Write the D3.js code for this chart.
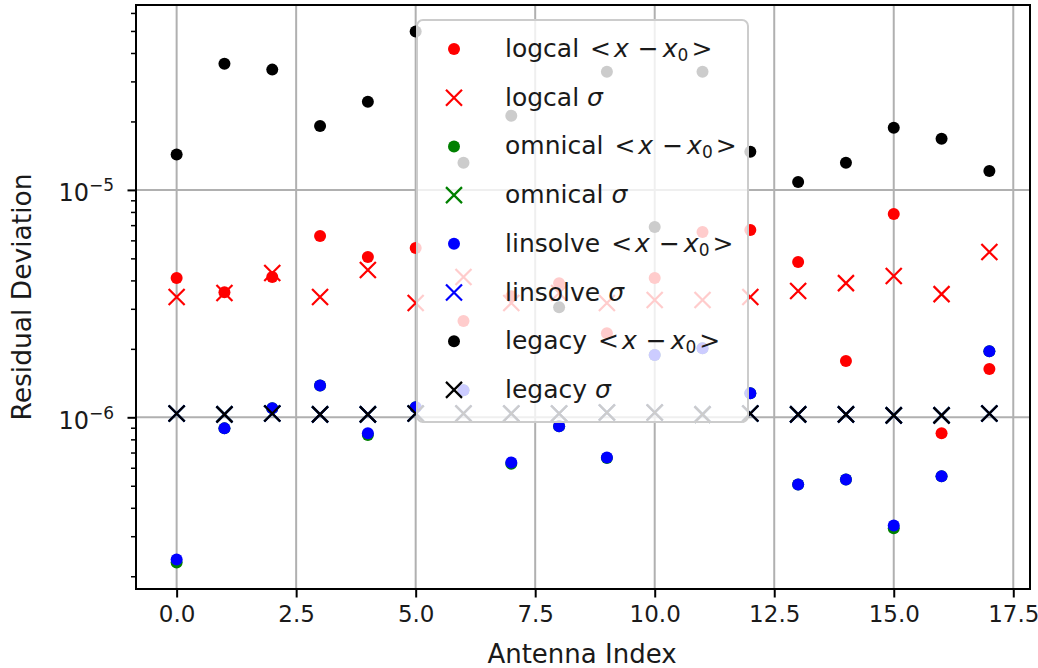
<!DOCTYPE html>
<html>
<head>
<meta charset="utf-8">
<script src="https://cdn.jsdelivr.net/npm/d3@7"></script>
<style>
  body { margin: 0; background: #fff; }
  svg { display: block; font-family: "DejaVu Sans", sans-serif; }
</style>
</head>
<body>
<div id="chart"></div>
<script>
// --- Data ---
const antenna = [0, 1, 2, 3, 4, 5, 6, 7, 8, 9, 10, 11, 12, 13, 14, 15, 16, 17];

const logcalMean = [4.10e-6, 3.55e-6, 4.14e-6, 6.27e-6, 5.07e-6, 5.55e-6, 2.65e-6, 3.41e-6, 3.89e-6,
  2.34e-6, 4.10e-6, 6.53e-6, 6.67e-6, 4.82e-6, 1.77e-6, 7.84e-6, 8.50e-7, 1.63e-6];
const logcalSigma = [3.38e-6, 3.52e-6, 4.31e-6, 3.38e-6, 4.44e-6, 3.18e-6, 4.14e-6, 3.18e-6, 3.52e-6,
  3.18e-6, 3.28e-6, 3.28e-6, 3.38e-6, 3.59e-6, 3.89e-6, 4.18e-6, 3.48e-6, 5.33e-6];
const omnicalMean = [2.30e-7, 8.94e-7, 1.095e-6, 1.38e-6, 8.35e-7, 1.107e-6, 1.315e-6, 6.25e-7, 9.13e-7,
  6.62e-7, 1.88e-6, 2.01e-6, 1.275e-6, 5.07e-7, 5.33e-7, 3.25e-7, 5.50e-7, 1.95e-6];
const omnicalSigma = [1.04e-6, 1.03e-6, 1.04e-6, 1.03e-6, 1.03e-6, 1.04e-6, 1.04e-6, 1.04e-6, 1.04e-6,
  1.05e-6, 1.05e-6, 1.03e-6, 1.04e-6, 1.03e-6, 1.03e-6, 1.02e-6, 1.02e-6, 1.04e-6];
const linsolveMean = [2.37e-7, 8.94e-7, 1.095e-6, 1.38e-6, 8.50e-7, 1.107e-6, 1.315e-6, 6.33e-7, 9.13e-7,
  6.66e-7, 1.88e-6, 2.01e-6, 1.275e-6, 5.07e-7, 5.33e-7, 3.34e-7, 5.50e-7, 1.95e-6];
const linsolveSigma = [1.04e-6, 1.03e-6, 1.04e-6, 1.03e-6, 1.03e-6, 1.04e-6, 1.04e-6, 1.04e-6, 1.04e-6,
  1.05e-6, 1.05e-6, 1.03e-6, 1.04e-6, 1.03e-6, 1.03e-6, 1.02e-6, 1.02e-6, 1.04e-6];
const legacyMean = [1.43e-5, 3.59e-5, 3.38e-5, 1.91e-5, 2.44e-5, 4.97e-5, 1.315e-5, 2.12e-5, 3.05e-6,
  3.31e-5, 6.87e-6, 3.31e-5, 1.47e-5, 1.084e-5, 1.315e-5, 1.875e-5, 1.68e-5, 1.21e-5];
const legacySigma = [1.04e-6, 1.03e-6, 1.04e-6, 1.03e-6, 1.03e-6, 1.04e-6, 1.04e-6, 1.04e-6, 1.04e-6,
  1.05e-6, 1.05e-6, 1.03e-6, 1.04e-6, 1.03e-6, 1.03e-6, 1.02e-6, 1.02e-6, 1.04e-6];

const xTicks = [0, 2.5, 5, 7.5, 10, 12.5, 15, 17.5];
const yMajorTicks = [1e-6, 1e-5];
const yTickExponents = ["\u22126", "\u22125"];

const series = [
  { name: "logcal", kind: "mean", color: "#ff0000", values: logcalMean },
  { name: "logcal", kind: "sigma", color: "#ff0000", values: logcalSigma },
  { name: "omnical", kind: "mean", color: "#008000", values: omnicalMean },
  { name: "omnical", kind: "sigma", color: "#008000", values: omnicalSigma },
  { name: "linsolve", kind: "mean", color: "#0000ff", values: linsolveMean },
  { name: "linsolve", kind: "sigma", color: "#0000ff", values: linsolveSigma },
  { name: "legacy", kind: "mean", color: "#000000", values: legacyMean },
  { name: "legacy", kind: "sigma", color: "#000000", values: legacySigma },
];

// --- Dimensions ---
const W = 1038, H = 668;
const plot = { left: 136, right: 1030, top: 5, bottom: 589 };
const fontSize = 23;
const textColor = "#1a1a1a";

const svg = d3.select("#chart").append("svg")
  .attr("width", W).attr("height", H);

// --- Scales (matplotlib style 5% margins) ---
const x = d3.scaleLinear()
  .domain([-0.85, 17.85])
  .range([plot.left, plot.right]);

const allVals = series.flatMap(s => s.values).map(v => Math.log10(v));
const [lo, hi] = d3.extent(allVals);
const pad = (hi - lo) * 0.05;
const y = d3.scaleLog()
  .domain([Math.pow(10, lo - pad), Math.pow(10, hi + pad)])
  .range([plot.bottom, plot.top]);

// minor log ticks inside the domain
const yMinorTicks = [];
for (let e = -7; e <= -4; e++) {
  for (let m = 2; m <= 9; m++) {
    const v = m * Math.pow(10, e);
    if (v >= y.domain()[0] && v <= y.domain()[1]) yMinorTicks.push(v);
  }
}

// --- Grid ---
const grid = svg.append("g").attr("stroke", "#b0b0b0").attr("stroke-width", 2);
grid.selectAll(".gx").data(xTicks).join("line")
  .attr("x1", d => x(d)).attr("x2", d => x(d))
  .attr("y1", plot.top).attr("y2", plot.bottom);
grid.selectAll(".gy").data(yMajorTicks).join("line")
  .attr("x1", plot.left).attr("x2", plot.right)
  .attr("y1", d => y(d)).attr("y2", d => y(d));

// --- Points ---
const xr = 8;
for (const s of series) {
  const pts = s.values.map((v, i) => ({ i: antenna[i], v }));
  if (s.kind === "mean") {
    svg.append("g").selectAll("circle").data(pts).join("circle")
      .attr("cx", d => x(d.i)).attr("cy", d => y(d.v))
      .attr("r", 6).attr("fill", s.color);
  } else {
    svg.append("g").selectAll("path").data(pts).join("path")
      .attr("transform", d => `translate(${x(d.i)},${y(d.v)})`)
      .attr("d", `M${-xr},${-xr}L${xr},${xr}M${-xr},${xr}L${xr},${-xr}`)
      .attr("stroke", s.color).attr("stroke-width", 2.2).attr("fill", "none");
  }
}

// --- Axes ---
const xAxis = svg.append("g")
  .attr("transform", `translate(0,${plot.bottom})`)
  .call(d3.axisBottom(x).tickValues(xTicks).tickFormat(d3.format(".1f")).tickSize(8.5).tickPadding(8));
xAxis.select(".domain").remove();
xAxis.selectAll("line").attr("stroke", "#000").attr("stroke-width", 2);
xAxis.selectAll("text").attr("font-size", fontSize).attr("fill", textColor)
  .attr("font-family", "DejaVu Sans");

const yMinor = svg.append("g")
  .attr("transform", `translate(${plot.left},0)`)
  .call(d3.axisLeft(y).tickValues(yMinorTicks).tickFormat("").tickSize(5));
yMinor.select(".domain").remove();
yMinor.selectAll("line").attr("stroke", "#000").attr("stroke-width", 1.5);

const yMajor = svg.append("g")
  .attr("transform", `translate(${plot.left},0)`)
  .call(d3.axisLeft(y).tickValues(yMajorTicks).tickFormat("").tickSize(8.5));
yMajor.select(".domain").remove();
yMajor.selectAll("line").attr("stroke", "#000").attr("stroke-width", 2);

yMajor.selectAll(".tick").append("text")
  .attr("x", -22).attr("y", 11)
  .attr("text-anchor", "end")
  .attr("fill", textColor)
  .attr("font-size", 24)
  .attr("font-family", "DejaVu Sans")
  .each(function(d, i) {
    const t = d3.select(this);
    t.append("tspan").text("10");
    t.append("tspan").attr("font-size", 17).attr("dy", -10).text(yTickExponents[i]);
  });

// frame
svg.append("rect")
  .attr("x", plot.left).attr("y", plot.top)
  .attr("width", plot.right - plot.left).attr("height", plot.bottom - plot.top)
  .attr("fill", "none").attr("stroke", "#000").attr("stroke-width", 2);

// axis labels
svg.append("text")
  .attr("x", (plot.left + plot.right) / 2 - 1).attr("y", 663)
  .attr("text-anchor", "middle")
  .attr("font-size", 26).attr("fill", textColor)
  .text("Antenna Index");

svg.append("text")
  .attr("transform", `translate(31,${(plot.top + plot.bottom) / 2}) rotate(-90)`)
  .attr("text-anchor", "middle")
  .attr("font-size", 26.5).attr("fill", textColor)
  .text("Residual Deviation");

// --- Legend ---
const legend = svg.append("g").attr("transform", "translate(417,20)");
legend.append("rect")
  .attr("width", 331).attr("height", 402).attr("rx", 6)
  .attr("fill", "#fff").attr("fill-opacity", 0.8)
  .attr("stroke", "#cccccc").attr("stroke-width", 2);

series.forEach((s, i) => {
  const g = legend.append("g").attr("transform", `translate(0,${29 + i * 48.7})`);
  if (s.kind === "mean") {
    g.append("circle").attr("cx", 37).attr("cy", 0).attr("r", 6).attr("fill", s.color);
  } else {
    g.append("path")
      .attr("transform", "translate(37,0)")
      .attr("d", `M${-xr},${-xr}L${xr},${xr}M${-xr},${xr}L${xr},${-xr}`)
      .attr("stroke", s.color).attr("stroke-width", 2.2).attr("fill", "none");
  }
  const t = g.append("text").attr("x", 88).attr("y", 8)
    .attr("font-size", 25).attr("fill", textColor);
  t.append("tspan").text(s.name + " ");
  if (s.kind === "mean") {
    t.append("tspan").attr("dx", 3).text("<");
    t.append("tspan").attr("dx", 3).attr("font-style", "italic").text("x");
    t.append("tspan").attr("dx", 9).text("\u2212");
    t.append("tspan").attr("dx", 4).attr("font-style", "italic").text("x");
    t.append("tspan").attr("font-size", 17).attr("dy", 4).text("0");
    t.append("tspan").attr("dx", 3).attr("dy", -4).text(">");
  } else {
    t.append("tspan").attr("font-style", "italic").text("\u03c3");
  }
});
</script>
</body>
</html>
